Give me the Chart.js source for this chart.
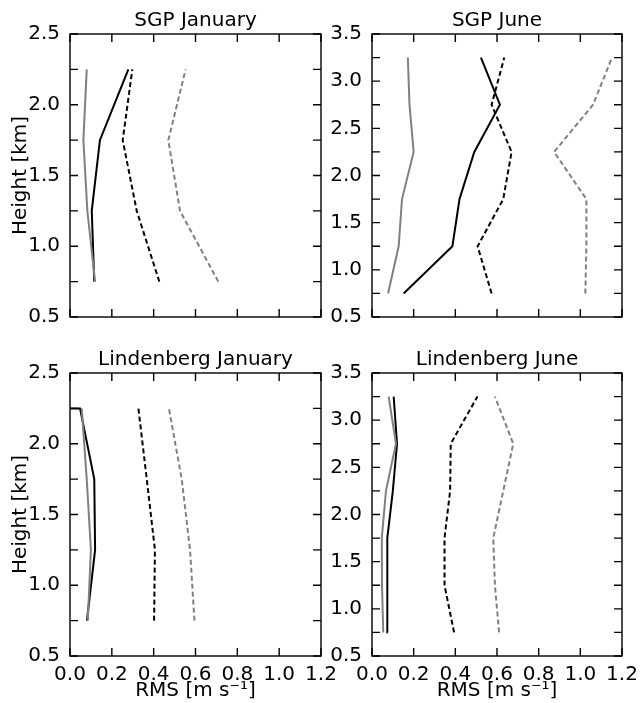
<!DOCTYPE html>
<html>
<head>
<meta charset="utf-8">
<script src="https://cdn.jsdelivr.net/npm/chart.js@4.4.0/dist/chart.umd.min.js"></script>
<style>
  body { margin: 0; background: #fff; width: 641px; height: 703px; position: relative; overflow: hidden; }
  canvas { position: absolute; }
</style>
</head>
<body>
<canvas id="sgpJan" width="340" height="340" style="left:0;top:0"></canvas>
<canvas id="sgpJun" width="339" height="340" style="left:302px;top:0"></canvas>
<canvas id="lbJan" width="340" height="364" style="left:0;top:339px"></canvas>
<canvas id="lbJun" width="339" height="364" style="left:302px;top:339px"></canvas>
<script>
// heights [km] of the profile points
const janHeights = [0.75, 1.25, 1.75, 2.25];
const junHeights = [0.75, 1.25, 1.75, 2.25, 2.75, 3.25];
const lbJanBlackHeights = [0.75, 1.25, 1.75, 2.25, 2.25];

// SGP January
const sgpJanGraySolid   = [0.120, 0.083, 0.064, 0.080];
const sgpJanBlackSolid  = [0.116, 0.104, 0.143, 0.279];
const sgpJanBlackDashed = [0.427, 0.319, 0.252, 0.298];
const sgpJanGrayDashed  = [0.709, 0.526, 0.470, 0.553];

// SGP June
const sgpJunGraySolid   = [0.077, 0.128, 0.144, 0.200, 0.180, 0.172];
const sgpJunBlackSolid  = [0.152, 0.386, 0.420, 0.491, 0.614, 0.523];
const sgpJunBlackDashed = [0.574, 0.507, 0.630, 0.670, 0.574, 0.635];
const sgpJunGrayDashed  = [1.024, 1.029, 1.029, 0.874, 1.061, 1.152];

// Lindenberg January
const lbJanGraySolid   = [0.085, 0.100, 0.080, 0.056];
const lbJanBlackSolid  = [0.081, 0.120, 0.116, 0.048, 0.000];
const lbJanBlackDashed = [0.402, 0.406, 0.367, 0.327];
const lbJanGrayDashed  = [0.595, 0.574, 0.534, 0.473];

// Lindenberg June
const lbJunGraySolid   = [0.054, 0.048, 0.047, 0.067, 0.115, 0.080];
const lbJunBlackSolid  = [0.075, 0.075, 0.072, 0.100, 0.120, 0.104];
const lbJunBlackDashed = [0.394, 0.348, 0.348, 0.375, 0.378, 0.506];
const lbJunGrayDashed  = [0.610, 0.590, 0.582, 0.630, 0.678, 0.590];

const xTicks = [0, 0.2, 0.4, 0.6, 0.8, 1.0, 1.2];

Chart.defaults.font.family = 'DejaVu Sans';
Chart.defaults.color = '#000';

const GRAY = '#808080';

function series(xs, hs, color, dashed) {
  return {
    data: xs.map((v, i) => ({ x: v, y: hs[i] })),
    borderColor: color,
    borderWidth: 2,
    borderDash: dashed ? [5, 3] : [],
    showLine: true,
    pointRadius: 0,
    fill: false,
    tension: 0
  };
}

// inward ticks on all four sides plus the frame
const frameTicks = {
  id: 'frameTicks',
  afterDraw(chart) {
    const { ctx, chartArea: a, scales: { x, y } } = chart;
    ctx.save();
    ctx.strokeStyle = '#000';
    ctx.lineWidth = 1.4;
    ctx.strokeRect(a.left, a.top, a.right - a.left, a.bottom - a.top);
    ctx.beginPath();
    x.ticks.forEach(t => {
      const px = x.getPixelForValue(t.value);
      ctx.moveTo(px, a.bottom); ctx.lineTo(px, a.bottom - 8);
      ctx.moveTo(px, a.top); ctx.lineTo(px, a.top + 8);
    });
    y.ticks.forEach(t => {
      const py = y.getPixelForValue(t.value);
      ctx.moveTo(a.left, py); ctx.lineTo(a.left + 8, py);
      ctx.moveTo(a.right, py); ctx.lineTo(a.right - 8, py);
    });
    ctx.stroke();
    ctx.restore();
  }
};

function makePanel(id, title, yMax, datasets, showX, showYTitle) {
  new Chart(document.getElementById(id), {
    type: 'scatter',
    data: { datasets: datasets },
    options: {
      responsive: false,
      animation: false,
      layout: { padding: { left: 0, right: 19, top: 0, bottom: 0 } },
      plugins: {
        legend: { display: false },
        tooltip: { enabled: false },
        title: {
          display: true,
          text: title,
          fullSize: false,
          font: { size: 20, weight: 'normal' },
          padding: { top: 8.8, bottom: 1.2 }
        }
      },
      scales: {
        x: {
          type: 'linear',
          min: 0,
          max: 1.2,
          grid: { display: false },
          border: { display: false },
          afterBuildTicks: s => { s.ticks = xTicks.map(v => ({ value: v })); },
          ticks: {
            autoSkip: false,
            maxRotation: 0,
            padding: 1,
            font: { size: 20, lineHeight: 1 },
            callback: v => showX ? v.toFixed(1) : ''
          },
          title: {
            display: showX,
            text: 'RMS [m s⁻¹]',
            font: { size: 20 },
            padding: { top: 0, bottom: 0 }
          },
          afterFit: s => { s.height = showX ? 47 : 23; }
        },
        y: {
          type: 'linear',
          min: 0.5,
          max: yMax,
          grid: { display: false },
          border: { display: false },
          ticks: {
            stepSize: 0.25,
            autoSkip: false,
            padding: 2,
            font: { size: 20 },
            callback: v => Math.abs(v * 2 - Math.round(v * 2)) < 1e-6 ? v.toFixed(1) : ''
          },
          title: {
            display: showYTitle,
            text: 'Height [km]',
            font: { size: 20 },
            padding: { top: 8.5, bottom: 0 }
          },
          afterFit: s => { s.width = 70; }
        }
      }
    },
    plugins: [frameTicks]
  });
}

makePanel('sgpJan', 'SGP January', 2.5, [
  series(sgpJanGraySolid, janHeights, GRAY, false),
  series(sgpJanBlackSolid, janHeights, '#000', false),
  series(sgpJanBlackDashed, janHeights, '#000', true),
  series(sgpJanGrayDashed, janHeights, GRAY, true)
], false, true);

makePanel('sgpJun', 'SGP June', 3.5, [
  series(sgpJunGraySolid, junHeights, GRAY, false),
  series(sgpJunBlackSolid, junHeights, '#000', false),
  series(sgpJunBlackDashed, junHeights, '#000', true),
  series(sgpJunGrayDashed, junHeights, GRAY, true)
], false, false);

makePanel('lbJan', 'Lindenberg January', 2.5, [
  series(lbJanGraySolid, janHeights, GRAY, false),
  series(lbJanBlackSolid, lbJanBlackHeights, '#000', false),
  series(lbJanBlackDashed, janHeights, '#000', true),
  series(lbJanGrayDashed, janHeights, GRAY, true)
], true, true);

makePanel('lbJun', 'Lindenberg June', 3.5, [
  series(lbJunGraySolid, junHeights, GRAY, false),
  series(lbJunBlackSolid, junHeights, '#000', false),
  series(lbJunBlackDashed, junHeights, '#000', true),
  series(lbJunGrayDashed, junHeights, GRAY, true)
], true, false);
</script>
</body>
</html>
